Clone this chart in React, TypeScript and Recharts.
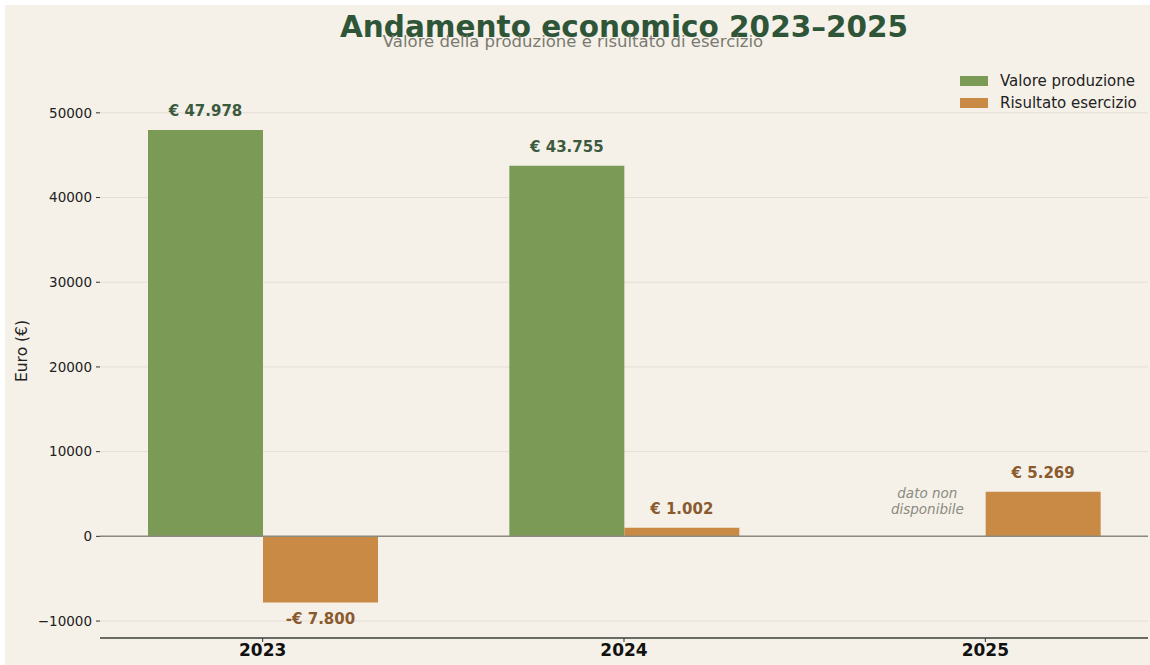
import React from "react";
import {
  BarChart,
  Bar,
  XAxis,
  YAxis,
  CartesianGrid,
  ReferenceLine,
  ReferenceDot,
  LabelList,
} from "recharts";

const years = ["2023", "2024", "2025"];
const valoreProduzione: (number | null)[] = [47978, 43755, null];
const risultatoEsercizio: number[] = [-7800, 1002, 5269];
const yTicks = [-10000, 0, 10000, 20000, 30000, 40000, 50000];

const data = years.map((y, i) => ({
  year: y,
  valore: valoreProduzione[i],
  risultato: risultatoEsercizio[i],
}));

const GREEN = "#7a9a55";
const ORANGE = "#c98a46";
const GREEN_TXT = "#3b5a3e";
const BROWN_TXT = "#8a5a2e";
const FONT = "DejaVu Sans, sans-serif";

const fmt = (v: number) => {
  const abs = Math.abs(v).toLocaleString("de-DE");
  return (v < 0 ? "-€ " : "€ ") + abs;
};

const makeLabel = (color: string) => (props: any) => {
  const { x, y, width, height, value } = props;
  if (value === null || value === undefined) return null;
  const top = Math.min(y, y + height);
  const bottom = Math.max(y, y + height);
  const cx = x + width / 2;
  const ty = value < 0 ? bottom + 22 : top - 14;
  return (
    <text
      x={cx}
      y={ty}
      textAnchor="middle"
      fill={color}
      fontFamily={FONT}
      fontWeight="bold"
      fontSize={15}
    >
      {fmt(value)}
    </text>
  );
};

const NotAvailable = (props: any) => {
  const { cx, cy } = props;
  const x = cx - 58;
  return (
    <g>
      <text x={x} y={cy - 38} textAnchor="middle" fill="#8a8a80" fontStyle="italic" fontFamily={FONT} fontSize={13.5}>
        dato non
      </text>
      <text x={x} y={cy - 22} textAnchor="middle" fill="#8a8a80" fontStyle="italic" fontFamily={FONT} fontSize={13.5}>
        disponibile
      </text>
    </g>
  );
};

export default function App() {
  return (
    <div
      style={{
        position: "absolute",
        left: 5,
        top: 5,
        width: 1145,
        height: 660,
        background: "#f5f1e9",
        fontFamily: FONT,
      }}
    >
      <div
        style={{
          position: "absolute",
          left: 0,
          width: 1238,
          top: 5,
          textAlign: "center",
          fontSize: 29.5,
          fontWeight: "bold",
          color: "#2f5538",
          lineHeight: "34px",
        }}
      >
        Andamento economico 2023–2025
      </div>
      <div
        style={{
          position: "absolute",
          left: 0,
          width: 1136,
          top: 27,
          textAlign: "center",
          fontSize: 16.5,
          color: "#7a7a70",
          lineHeight: "20px",
        }}
      >
        Valore della produzione e risultato di esercizio
      </div>
      <div
        style={{
          position: "absolute",
          left: 955,
          top: 65,
          fontSize: 15,
          color: "#222",
          lineHeight: "22px",
        }}
      >
        <div style={{ display: "flex", alignItems: "center" }}>
          <span style={{ display: "inline-block", width: 28, height: 10, background: GREEN, marginRight: 12 }} />
          Valore produzione
        </div>
        <div style={{ display: "flex", alignItems: "center" }}>
          <span style={{ display: "inline-block", width: 28, height: 10, background: ORANGE, marginRight: 12 }} />
          Risultato esercizio
        </div>
      </div>
      <div
        style={{
          position: "absolute",
          left: 17,
          top: 346,
          transform: "translate(-50%, -50%) rotate(-90deg)",
          fontSize: 15.5,
          color: "#222",
          whiteSpace: "nowrap",
        }}
      >
        Euro (€)
      </div>
      <BarChart
        width={1145}
        height={660}
        data={data}
        margin={{ top: 57, right: 2, bottom: 0, left: 0 }}
        barGap={0}
        style={{ position: "absolute", left: 0, top: 0 }}
      >
        <CartesianGrid horizontal vertical={false} horizontalValues={yTicks} stroke="#e4ded3" strokeWidth={1} />
        <XAxis
          dataKey="year"
          height={27}
          padding={{ left: -18, right: -18 }}
          axisLine={{ stroke: "#6b6b66", strokeWidth: 2 }}
          tickLine={{ stroke: "#333" }}
          tickSize={4}
          tick={{ fill: "#111", fontSize: 17, fontWeight: "bold", fontFamily: FONT }}
          tickMargin={2}
        />
        <YAxis
          width={95}
          domain={[-12000, 56000]}
          ticks={yTicks}
          allowDataOverflow
          axisLine={false}
          tickLine={{ stroke: "#333" }}
          tickSize={4}
          tickMargin={4}
          tick={{ fill: "#222", fontSize: 13.5, fontFamily: FONT }}
          tickFormatter={(v: number) => (v < 0 ? "−" + Math.abs(v) : String(v))}
        />
        <ReferenceLine y={0} stroke="#8a8a80" strokeWidth={1.5} />
        <Bar dataKey="valore" fill={GREEN} barSize={115} isAnimationActive={false}>
          <LabelList dataKey="valore" content={makeLabel(GREEN_TXT)} />
        </Bar>
        <Bar dataKey="risultato" fill={ORANGE} barSize={115} isAnimationActive={false}>
          <LabelList dataKey="risultato" content={makeLabel(BROWN_TXT)} />
        </Bar>
        <ReferenceDot x="2025" y={0} r={0} shape={NotAvailable} />
      </BarChart>
    </div>
  );
}
